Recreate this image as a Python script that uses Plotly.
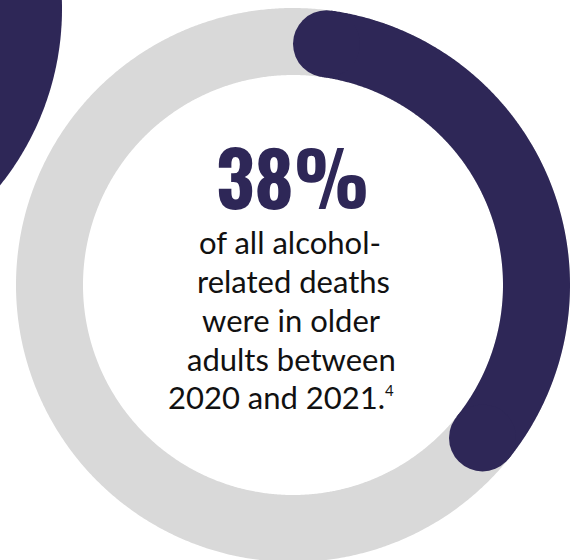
import numpy as np
import plotly.graph_objects as go

# ---- data ----
share_pct = 38
headline = f"{share_pct}%"
caption_lines = [
    "of all alcohol-",
    "related deaths",
    "were in older",
    "adults between",
    "2020 and 2021.<sup><span style='font-size:15px'>4</span></sup>",
]

# ---- geometry (pixel units) ----
W, H = 574, 560
CX, CY = 293, 285
R_MID = 243.5
RING_W = 67
NAVY = "#2e2757"
GREY = "#d9d9d9"


def arc_xy(cx, cy, r, a0, a1, n=400):
    a = np.radians(np.linspace(a0, a1, n))
    return cx + r * np.sin(a), cy - r * np.cos(a)


fig = go.Figure()

# decorative circle top-left
dx, dy = arc_xy(-220, 9, 282, 0, 360, 720)
fig.add_trace(go.Scatter(x=dx, y=dy, mode="lines", fill="toself",
                         fillcolor=NAVY, line=dict(width=0, color=NAVY, simplify=False),
                         hoverinfo="skip", showlegend=False))

# grey track (full circle, seam hidden under navy arc)
gx, gy = arc_xy(CX, CY, R_MID, 40, 420, 1000)
fig.add_trace(go.Scatter(x=gx, y=gy, mode="lines",
                         line=dict(width=RING_W, color=GREY, simplify=False),
                         hoverinfo="skip", showlegend=False))

# navy value arc with round caps
cap_deg = np.degrees(np.arcsin((RING_W / 2) / R_MID))
end_deg = share_pct / 100 * 360 - cap_deg
vx, vy = arc_xy(CX, CY, R_MID, cap_deg, end_deg, 500)
fig.add_trace(go.Scatter(x=vx, y=vy, mode="lines",
                         line=dict(width=RING_W, color=NAVY, simplify=False),
                         hoverinfo="skip", showlegend=False))
fig.add_trace(go.Scatter(x=[vx[0], vx[-1]], y=[vy[0], vy[-1]], mode="markers",
                         marker=dict(size=RING_W, color=NAVY, line=dict(width=0)),
                         hoverinfo="skip", showlegend=False))

# headline
fig.add_annotation(x=292, y=175, text=f"<b>{headline}</b>", showarrow=False,
                   xanchor="center", yanchor="middle",
                   font=dict(family="Oswald, 'Liberation Sans Narrow', 'DejaVu Sans Condensed', 'Arial Narrow', sans-serif",
                             size=75, color=NAVY))

# caption lines
line_x = [290, 293, 291, 291, 281]
line_y = [242, 281, 320, 359, 397]
for txt, xx, yy in zip(caption_lines, line_x, line_y):
    fig.add_annotation(x=xx, y=yy, text=txt, showarrow=False,
                       xanchor="center", yanchor="middle",
                       font=dict(family="Lato", size=31, color="#111111"))

fig.update_layout(
    width=W, height=H,
    margin=dict(l=0, r=0, t=0, b=0),
    paper_bgcolor="white", plot_bgcolor="white",
    xaxis=dict(range=[0, W], visible=False, fixedrange=True),
    yaxis=dict(range=[H, 0], visible=False, fixedrange=True),
    showlegend=False,
)

fig.write_html("out.html",
               config={"displayModeBar": False, "staticPlot": True},
               post_script="document.body.style.margin='0';document.body.style.overflow='hidden';")
